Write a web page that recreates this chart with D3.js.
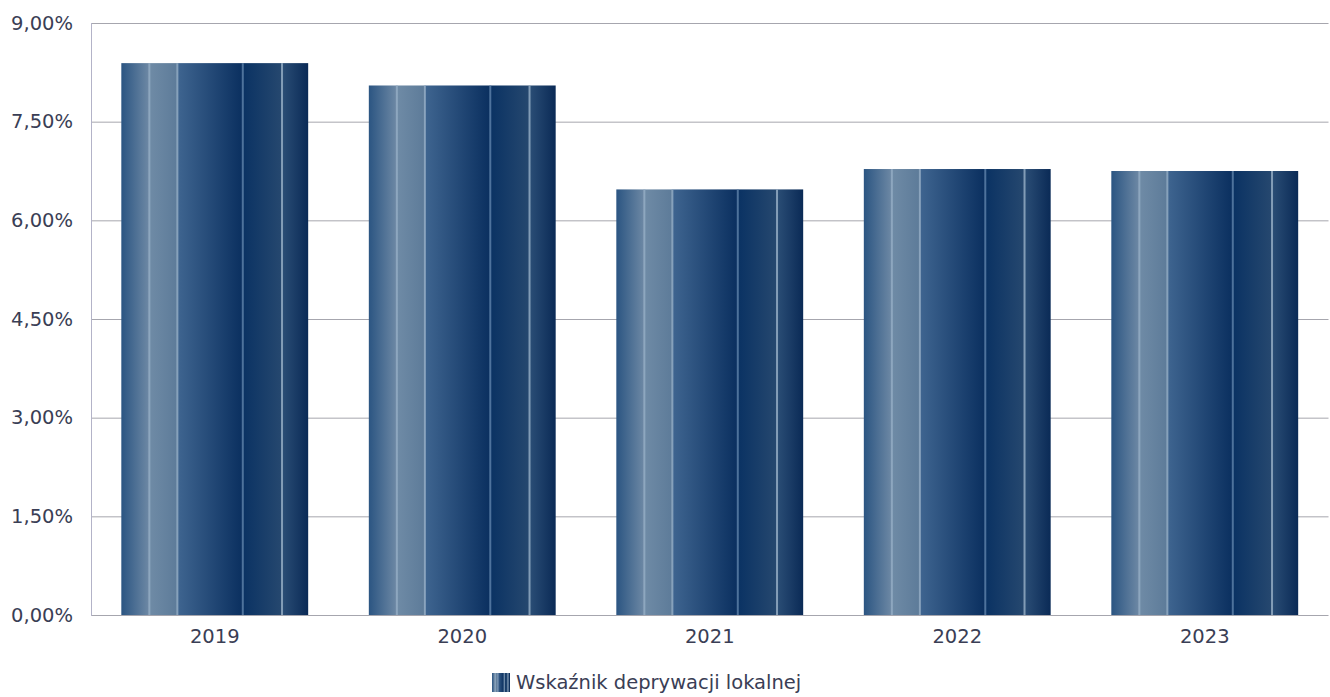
<!DOCTYPE html>
<html><head><meta charset="utf-8">
<script src="https://cdn.jsdelivr.net/npm/d3@7"></script>
<style>body{margin:0;background:#fff}svg text{font-family:"DejaVu Sans",sans-serif}</style>
</head><body><svg id="c" width="1330" height="697"></svg>
<script>
const categories = ["2019","2020","2021","2022","2023"];
const values = [8.39, 8.05, 6.47, 6.78, 6.75];
const yTicks = [0, 1.5, 3, 4.5, 6, 7.5, 9];
const seriesName = "Wskaźnik deprywacji lokalnej";

const svg = d3.select("#c");
const m = {l:91, t:23, r:1.5, b:82};
const W = 1330, H = 697;
const x = d3.scaleBand().domain(categories).range([m.l, W - m.r]).paddingInner(0.245).paddingOuter(0.1225);
const y = d3.scaleLinear().domain([0, 9]).range([H - m.b, m.t]);
const fmt = v => v.toFixed(2).replace(".", ",") + "%";
const FS = 19.5;

const defs = svg.append("defs");
const g = defs.append("linearGradient").attr("id","bg").attr("x1","0").attr("x2","1").attr("y1","0").attr("y2","0");
const stops = [
 [0,"#2b5582"],[0.15,"#6e89a5"],[0.15,"#6f8ba6"],[0.30,"#5d7b99"],[0.30,"#3f6590"],
 [0.65,"#0a2f5f"],[0.65,"#0a3263"],[0.86,"#26486f"],[0.86,"#2b4e76"],[1,"#0a2a56"]
];
stops.forEach(s=>g.append("stop").attr("offset",s[0]).attr("stop-color",s[1]));

// gridlines
svg.append("g").selectAll("line").data(yTicks).join("line")
  .attr("x1", m.l).attr("x2", W - m.r).attr("y1", d=>y(d)+0.5).attr("y2", d=>y(d)+0.5)
  .attr("stroke", "#a6a6ae").attr("stroke-width", 1);
svg.append("line").attr("x1", m.l+0.5).attr("x2", m.l+0.5).attr("y1", y(9)).attr("y2", y(0)+1)
  .attr("stroke", "#b3b3c8").attr("stroke-width", 1);

// bars
const bars = svg.append("g").selectAll("g").data(categories).join("g");
bars.append("rect").attr("x", d=>x(d)).attr("width", x.bandwidth())
  .attr("y", (d,i)=>y(values[i])).attr("height", (d,i)=>y(0)-y(values[i]))
  .attr("fill","url(#bg)");
[0.15,0.30,0.65,0.86].forEach(f=>{
  bars.append("rect").attr("x", d=>x(d)+f*x.bandwidth()-1).attr("width", 2)
    .attr("y", (d,i)=>y(values[i])).attr("height", (d,i)=>y(0)-y(values[i]))
    .attr("fill", f===0.65 ? "#5b7ea6" : "#93abc3").attr("opacity", 0.85);
});

// y labels
svg.append("g").selectAll("text").data(yTicks).join("text")
  .attr("x", 73).attr("y", d=>y(d)).attr("dy","0.35em").attr("text-anchor","end")
  .attr("font-size", FS).attr("fill","#3a3e55").text(fmt);
// x labels
svg.append("g").selectAll("text").data(categories).join("text")
  .attr("x", d=>x(d)+x.bandwidth()/2).attr("y", y(0)+21).attr("dy","0.35em").attr("text-anchor","middle")
  .attr("font-size", FS).attr("fill","#3a3e55").text(d=>d);

// legend
const lg = svg.append("g");
const lgr = defs.append("linearGradient").attr("id","lgg").attr("x1","0").attr("x2","1");
stops.forEach(s=>lgr.append("stop").attr("offset",s[0]).attr("stop-color",s[1]));
lg.append("rect").attr("x",492).attr("y",673).attr("width",18).attr("height",19).attr("fill","url(#lgg)");
[0.15,0.30,0.65,0.86].forEach(f=>lg.append("rect").attr("x",492+f*18).attr("y",673).attr("width",1).attr("height",19).attr("fill","#93abc3"));
lg.append("text").attr("x",516).attr("y",682.5).attr("dy","0.35em").attr("font-size",FS).attr("fill","#3a3e55").text(seriesName);
</script></body></html>
